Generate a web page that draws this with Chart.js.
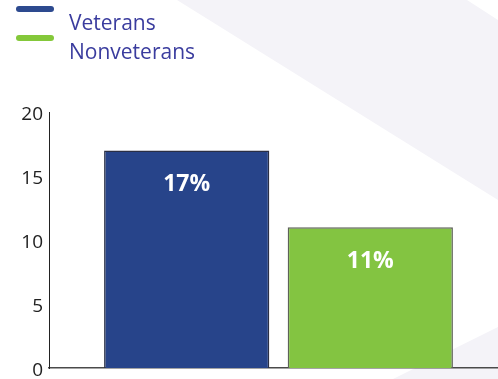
<!DOCTYPE html>
<html>
<head>
<meta charset="utf-8">
<script src="https://cdn.jsdelivr.net/npm/chart.js@4"></script>
<style>
  html, body { margin: 0; padding: 0; background: #fff; overflow: hidden; }
  body { width: 498px; height: 379px; position: relative; font-family: 'Open Sans', sans-serif; }
  .shade { position: absolute; left: 0; top: 0; width: 498px; height: 379px; background: #f4f3f8; }
  .band { clip-path: polygon(177px 0, 467px 0, 498px 20px, 498px 200px); }
  .corner { clip-path: polygon(393px 379px, 498px 327px, 498px 379px); }
  #wrap { position: absolute; left: 0; top: 0; width: 508px; height: 379px; }
  #legend { position: absolute; left: 16px; top: 0; }
  .item { position: relative; height: 29px; }
  .swatch { position: absolute; left: 0; width: 38px; height: 6px; border-radius: 3px; }
  .label { position: absolute; left: 53px; color: #3a3c9e; font-size: 21px; white-space: nowrap; }
</style>
</head>
<body>
<div class="shade band"></div>
<div class="shade corner"></div>
<div id="wrap"><canvas id="chart"></canvas></div>
<div id="legend"></div>
<script>
const seriesNames = ['Veterans', 'Nonveterans'];
const seriesValues = [17, 11];
const seriesColors = ['#27448a', '#83c441'];
const legendColors = ['#2d4a8f', '#84c83a'];
const borderColors = ['#2a2f45', '#5e6259'];
const yTicks = [0, 5, 10, 15, 20];

// legend: colored bar sits a bit above its text
const legend = document.getElementById('legend');
seriesNames.forEach((name, i) => {
  const item = document.createElement('div');
  item.className = 'item';
  item.innerHTML =
    '<span class="swatch" style="top:6px;background:' + legendColors[i] + '"></span>' +
    '<span class="label" style="top:8px">' + name + '</span>';
  legend.appendChild(item);
});

const barLabels = {
  id: 'barLabels',
  afterDatasetsDraw(chart) {
    const ctx = chart.ctx;
    ctx.save();
    ctx.fillStyle = '#fff';
    ctx.font = 'bold 23px "Open Sans"';
    ctx.textAlign = 'center';
    ctx.textBaseline = 'middle';
    chart.data.datasets.forEach((ds, i) => {
      chart.getDatasetMeta(i).data.forEach((bar, j) => {
        ctx.fillText(ds.data[j] + '%', bar.x, bar.y + 34);
      });
    });
    ctx.restore();
  }
};

new Chart(document.getElementById('chart'), {
  type: 'bar',
  data: {
    labels: [''],
    datasets: seriesNames.map((name, i) => ({
      label: name,
      data: [seriesValues[i]],
      backgroundColor: seriesColors[i],
      borderColor: borderColors[i],
      borderWidth: 1.5,
      categoryPercentage: 0.8,
      barPercentage: 0.9,
    })),
  },
  options: {
    responsive: true,
    maintainAspectRatio: false,
    animation: false,
    layout: { padding: { top: 112, bottom: 11, left: 0, right: 0 } },
    plugins: {
      legend: { display: false },
      tooltip: { enabled: false },
    },
    scales: {
      x: {
        afterFit: (s) => { s.height = 0; },
        grid: { display: false, drawTicks: false },
        ticks: { display: false },
        border: { display: true, color: '#4a4a4a', width: 1.5 },
      },
      y: {
        min: 0,
        max: 20,
        afterBuildTicks: (s) => { s.ticks = yTicks.map((v) => ({ value: v })); },
        afterFit: (s) => { s.width = 49; s.paddingTop = 0; s.paddingBottom = 0; },
        grid: { display: false, drawTicks: false },
        border: { display: true, color: '#222', width: 1 },
        ticks: {
          padding: 6,
          labelOffset: 3,
          color: '#222',
          font: { family: 'Open Sans', size: 19 },
        },
      },
    },
  },
  plugins: [barLabels],
});
</script>
</body>
</html>
